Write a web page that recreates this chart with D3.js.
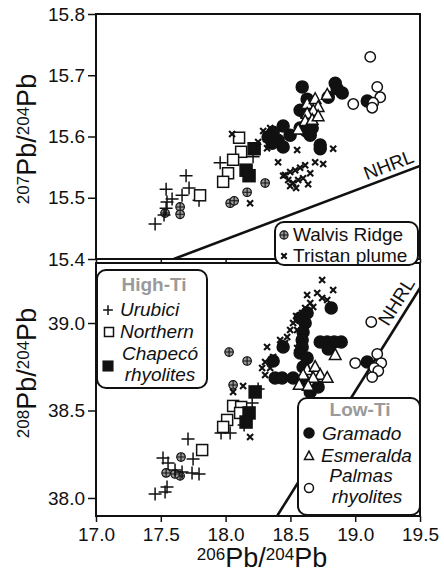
<!DOCTYPE html>
<html><head><meta charset="utf-8">
<script src="https://cdn.jsdelivr.net/npm/d3@7"></script>
<style>body{margin:0;background:#fff} svg{display:block} text{font-family:"Liberation Sans",Arial,Helvetica,sans-serif;fill:#111}</style>
</head><body><svg id="c" width="444" height="574"></svg>
<script>
// ---------- DATA ----------
const xTicks = [17.0, 17.5, 18.0, 18.5, 19.0, 19.5];
const yTicksTop = [15.4, 15.5, 15.6, 15.7, 15.8];
const yTicksBottom = [38.0, 38.5, 39.0];

// 206Pb/204Pb vs 207Pb/204Pb
const urubici207 = [[17.456,15.457],[17.525,15.472],[17.541,15.483],[17.548,15.493],[17.541,15.514],[17.587,15.498],[17.664,15.504],[17.695,15.536],[17.718,15.516],[17.795,15.496],[17.958,15.557],[18.212,15.567]];
const northern207 = [[18.104,15.598],[18.120,15.575],[18.058,15.562],[18.019,15.540],[17.981,15.526],[17.803,15.504]];
const chapeco207 = [[18.220,15.580],[18.158,15.545],[18.181,15.536]];
const walvis207 = [[17.533,15.475],[17.649,15.485],[17.649,15.473],[18.035,15.491],[18.066,15.495],[18.166,15.509],[18.305,15.524]];
const tristan207 = [[18.050,15.604],[18.290,15.609],[18.313,15.596],[18.320,15.581],[18.405,15.558],[18.552,15.578],[18.830,15.580],[18.189,15.491],[18.459,15.537],[18.498,15.542],[18.537,15.545],[18.575,15.549],[18.614,15.553],[18.653,15.540],[18.691,15.558],[18.753,15.555],[18.483,15.529],[18.521,15.524],[18.560,15.529],[18.598,15.532],[18.637,15.522],[18.498,15.519],[18.544,15.516],[18.444,15.536],[18.344,15.614],[18.390,15.594],[18.251,15.591]];
const gramado207 = [[18.591,15.681],[18.629,15.661],[18.575,15.643],[18.614,15.638],[18.846,15.687],[18.861,15.678],[18.900,15.671],[18.792,15.664],[19.093,15.658],[18.444,15.617],[18.367,15.607],[18.328,15.599],[18.405,15.594],[18.444,15.583],[18.359,15.589],[18.575,15.614],[18.622,15.609],[18.668,15.614],[18.653,15.602],[18.730,15.586],[18.730,15.580],[18.498,15.602]];
const esmeralda207 = [[18.629,15.653],[18.691,15.661],[18.714,15.648],[18.676,15.642],[18.629,15.637],[18.614,15.625],[18.668,15.627],[18.714,15.633],[18.560,15.611],[18.784,15.668]];
const palmas207 = [[19.116,15.730],[18.985,15.653],[19.170,15.681],[19.193,15.664],[19.139,15.655],[19.131,15.647]];

// 206Pb/204Pb vs 208Pb/204Pb
const urubici208 = [[17.456,38.023],[17.533,38.034],[17.548,38.063],[17.556,38.200],[17.710,38.337],[17.664,38.149],[17.749,38.223],[17.741,38.143],[17.795,38.137],[17.965,38.371],[18.035,38.371],[18.143,38.417],[18.205,38.543],[18.251,38.623],[17.610,38.160],[17.517,38.229]];
const northern208 = [[17.819,38.274],[18.012,38.446],[17.981,38.406],[18.058,38.526],[18.120,38.520],[18.112,38.486]];
const chapeco208 = [[18.228,38.606],[18.181,38.486],[18.158,38.434]];
const walvis208 = [[18.027,38.834],[18.166,38.783],[18.058,38.646],[17.656,38.234],[17.541,38.143],[17.649,38.126],[17.610,38.137]];
const tristan208 = [[18.745,39.246],[18.830,39.189],[18.707,39.171],[18.745,39.143],[18.784,39.131],[18.676,39.091],[18.629,39.160],[18.614,39.086],[18.591,39.057],[18.544,39.040],[18.521,39.000],[18.498,38.960],[18.475,38.920],[18.552,38.960],[18.459,38.886],[18.552,38.857],[18.591,38.840],[18.320,38.863],[18.367,38.806],[18.305,38.777],[18.282,38.743],[18.305,38.703],[18.058,38.606],[18.135,38.640],[18.189,38.349],[18.575,39.017],[18.653,39.114],[18.421,38.903],[18.344,38.743]];
const gramado208 = [[18.815,39.086],[18.614,39.000],[18.598,38.949],[18.591,38.903],[18.444,38.863],[18.591,38.863],[18.575,38.829],[18.629,38.800],[18.598,38.749],[18.730,38.891],[18.784,38.891],[18.838,38.891],[18.892,38.891],[18.792,38.851],[18.367,38.783],[18.382,38.686],[18.436,38.686],[18.521,38.686],[18.598,38.674],[18.714,38.634],[18.653,38.606],[19.093,38.777],[18.575,39.029],[18.629,39.057]];
const esmeralda208 = [[18.629,38.731],[18.691,38.749],[18.730,38.703],[18.676,38.686],[18.598,38.703],[18.568,38.646],[18.637,38.640],[18.846,38.817],[18.784,38.686]];
const palmas208 = [[19.124,39.006],[19.000,38.771],[19.170,38.823],[19.201,38.771],[19.147,38.743],[19.178,38.726],[19.131,38.691]];

// NHRL reference lines (endpoints)
const nhrl207 = [[17.6,15.4],[19.5,15.552]];
const nhrl208 = [[18.4,37.9],[19.5,39.2]];

// ---------- LAYOUT ----------
const svg = d3.select('#c');
const X0 = 96, X1 = 420;
const pTop = {t:14, b:259}, pBot = {t:263, b:516};
const x = d3.scaleLinear().domain([17, 19.5]).range([X0, X1]);
const yT = d3.scaleLinear().domain([15.4, 15.8]).range([pTop.b, pTop.t]);
const yB = d3.scaleLinear().domain([37.897, 39.343]).range([pBot.b, pBot.t]);
const INK = '#111';

const defs = svg.append('defs');
defs.append('clipPath').attr('id','clipT').append('rect').attr('x',X0).attr('y',pTop.t).attr('width',X1-X0).attr('height',pTop.b-pTop.t);
defs.append('clipPath').attr('id','clipB').append('rect').attr('x',X0).attr('y',pBot.t).attr('width',X1-X0).attr('height',pBot.b-pBot.t);

function styleAxis(g){
  g.select('.domain').remove();
  g.selectAll('.tick line').attr('stroke',INK).attr('stroke-width',1.5);
  g.selectAll('.tick text').attr('font-size',19).attr('fill',INK).style('font-family','"Liberation Sans",Arial,sans-serif');
}
// axes top panel
svg.append('g').attr('transform',`translate(${X0},0)`)
  .call(d3.axisLeft(yT).tickValues(yTicksTop).tickFormat(d3.format('.1f')).tickSize(8).tickPadding(3).tickSizeOuter(0)).call(styleAxis);
svg.append('g').attr('transform',`translate(0,${pTop.b})`)
  .call(d3.axisBottom(x).tickValues(xTicks).tickFormat('').tickSize(4).tickSizeOuter(0)).call(styleAxis);
// axes bottom panel
svg.append('g').attr('transform',`translate(${X0},0)`)
  .call(d3.axisLeft(yB).tickValues(yTicksBottom).tickFormat(d3.format('.1f')).tickSize(8).tickPadding(3).tickSizeOuter(0)).call(styleAxis);
svg.append('g').attr('transform',`translate(0,${pBot.b})`)
  .call(d3.axisBottom(x).tickValues(xTicks).tickFormat(d3.format('.1f')).tickSize(6).tickPadding(6).tickSizeOuter(0)).call(styleAxis);

// frames
[pTop, pBot].forEach(p => svg.append('rect').attr('x',X0).attr('y',p.t).attr('width',X1-X0).attr('height',p.b-p.t)
  .attr('fill','none').attr('stroke',INK).attr('stroke-width',2));

// NHRL lines
const line = (ys) => d3.line().x(d=>x(d[0])).y(d=>ys(d[1]));
svg.append('path').attr('d',line(yT)(nhrl207)).attr('clip-path','url(#clipT)').attr('stroke',INK).attr('stroke-width',2.6).attr('fill','none');
svg.append('path').attr('d',line(yB)(nhrl208)).attr('clip-path','url(#clipB)').attr('stroke',INK).attr('stroke-width',2.6).attr('fill','none');
svg.append('text').attr('transform','translate(391,171) rotate(-21)').attr('text-anchor','middle').attr('font-size',19).text('NHRL');
svg.append('text').attr('transform','translate(402,305) rotate(-58)').attr('text-anchor','middle').attr('font-size',19).text('NHRL');

// ---------- MARKERS ----------
const styles = {
  walvis:{type:'oplus', r:4.3},
  tristan:{type:'cross', s:3},
  urubici:{type:'plus', s:6.5},
  northern:{type:'square', s:5.5, fill:'#fff'},
  chapeco:{type:'square', s:6, fill:INK},
  gramado:{type:'circle', r:6, fill:INK},
  esmeralda:{type:'tri', s:5.8, fill:'#fff'},
  palmas:{type:'circle', r:5.2, fill:'#fff'}
};
function marker(g, st, cx, cy, k){
  k = k || 1;
  const gg = g.append('g').attr('transform',`translate(${cx},${cy})`);
  if(st.type==='circle'){
    gg.append('circle').attr('r',st.r*k).attr('fill',st.fill).attr('stroke',INK).attr('stroke-width',1.5);
  } else if(st.type==='oplus'){
    const r = st.r*k;
    gg.append('circle').attr('r',r).attr('fill','#9a9a9a').attr('stroke',INK).attr('stroke-width',1.1);
    gg.append('path').attr('d',`M${-r},0H${r}M0,${-r}V${r}`).attr('stroke',INK).attr('stroke-width',1.1);
  } else if(st.type==='cross'){
    const s = st.s*k;
    gg.append('path').attr('d',`M${-s},${-s}L${s},${s}M${-s},${s}L${s},${-s}`).attr('stroke',INK).attr('stroke-width',2.1);
  } else if(st.type==='plus'){
    const s = st.s*k;
    gg.append('path').attr('d',`M${-s},0H${s}M0,${-s}V${s}`).attr('stroke',INK).attr('stroke-width',1.5);
  } else if(st.type==='square'){
    const s = st.s*k;
    gg.append('rect').attr('x',-s).attr('y',-s).attr('width',2*s).attr('height',2*s).attr('fill',st.fill).attr('stroke',INK).attr('stroke-width',1.5);
  } else if(st.type==='tri'){
    const s = st.s*k;
    gg.append('path').attr('d',`M0,${-s*1.1}L${s},${s*0.75}L${-s},${s*0.75}Z`).attr('fill',st.fill).attr('stroke',INK).attr('stroke-width',1.5);
  }
}
function series(ys, data, st){
  const g = svg.append('g');
  data.forEach(d => marker(g, st, x(d[0]), ys(d[1])));
}
series(yT, walvis207, styles.walvis);
series(yT, urubici207, styles.urubici);
series(yT, northern207, styles.northern);
series(yT, chapeco207, styles.chapeco);
series(yT, gramado207, styles.gramado);
series(yT, tristan207, styles.tristan);
series(yT, esmeralda207, styles.esmeralda);
series(yT, palmas207, styles.palmas);

series(yB, walvis208, styles.walvis);
series(yB, urubici208, styles.urubici);
series(yB, northern208, styles.northern);
series(yB, chapeco208, styles.chapeco);
series(yB, gramado208, styles.gramado);
series(yB, tristan208, styles.tristan);
series(yB, esmeralda208, styles.esmeralda);
series(yB, palmas208, styles.palmas);

// ---------- LEGENDS ----------
function box(x0,y0,w,h){
  svg.append('rect').attr('x',x0).attr('y',y0).attr('width',w).attr('height',h).attr('rx',9)
    .attr('fill','#fff').attr('stroke',INK).attr('stroke-width',2);
}
function ltext(tx,ty,str,opt){
  opt = opt||{};
  return svg.append('text').attr('x',tx).attr('y',ty).attr('font-size',opt.size||19)
    .attr('font-style',opt.italic?'italic':null).attr('font-weight',opt.bold?'bold':null)
    .attr('text-anchor',opt.anchor||'start').style('fill',opt.color||INK).text(str);
}
// Walvis / Tristan
box(275,222,143,43);
marker(svg, styles.walvis, 284, 235, 0.95);
ltext(293,241,'Walvis Ridge',{size:19});
marker(svg, styles.tristan, 284, 256, 0.9);
ltext(293,262,'Tristan plume',{size:19});

// High-Ti
box(97,270,110,118);
ltext(154,291,'High-Ti',{bold:true,color:'#9a9a9a',anchor:'middle',size:19});
marker(svg, styles.urubici, 108, 310, 0.75);
ltext(120,316,'Urubici',{italic:true});
marker(svg, {type:'square', s:4.5, fill:'#fff'}, 109, 332);
ltext(120,338,'Northern',{italic:true});
ltext(160,360,'Chapecó',{italic:true,anchor:'middle'});
ltext(160,381,'rhyolites',{italic:true,anchor:'middle'});
marker(svg, {type:'square', s:4.8, fill:INK}, 108, 366);

// Low-Ti
box(298,398,122,117);
ltext(360,416,'Low-Ti',{bold:true,color:'#9a9a9a',anchor:'middle',size:19});
marker(svg, {type:'circle', r:5, fill:INK}, 309, 433);
ltext(322,440,'Gramado',{italic:true});
marker(svg, {type:'tri', s:4.5, fill:'#fff'}, 309, 456);
ltext(321,462,'Esmeralda',{italic:true});
ltext(361,482,'Palmas',{italic:true,anchor:'middle'});
ltext(367,503,'rhyolites',{italic:true,anchor:'middle'});
marker(svg, {type:'circle', r:4.5, fill:'#fff'}, 309, 488);

// ---------- AXIS TITLES ----------
function title(sel, a, b){
  const t = sel.attr('text-anchor','middle').attr('font-size',27);
  t.append('tspan').attr('font-size',17).attr('dy',-7).text(a);
  t.append('tspan').attr('dy',7).text('Pb/');
  t.append('tspan').attr('font-size',17).attr('dy',-7).text(b);
  t.append('tspan').attr('dy',7).text('Pb');
}
title(svg.append('text').attr('transform','translate(36,139) rotate(-90)'), '207', '204');
title(svg.append('text').attr('transform','translate(36,373) rotate(-90)'), '208', '204');
title(svg.append('text').attr('transform','translate(262,567)'), '206', '204');
</script></body></html>
